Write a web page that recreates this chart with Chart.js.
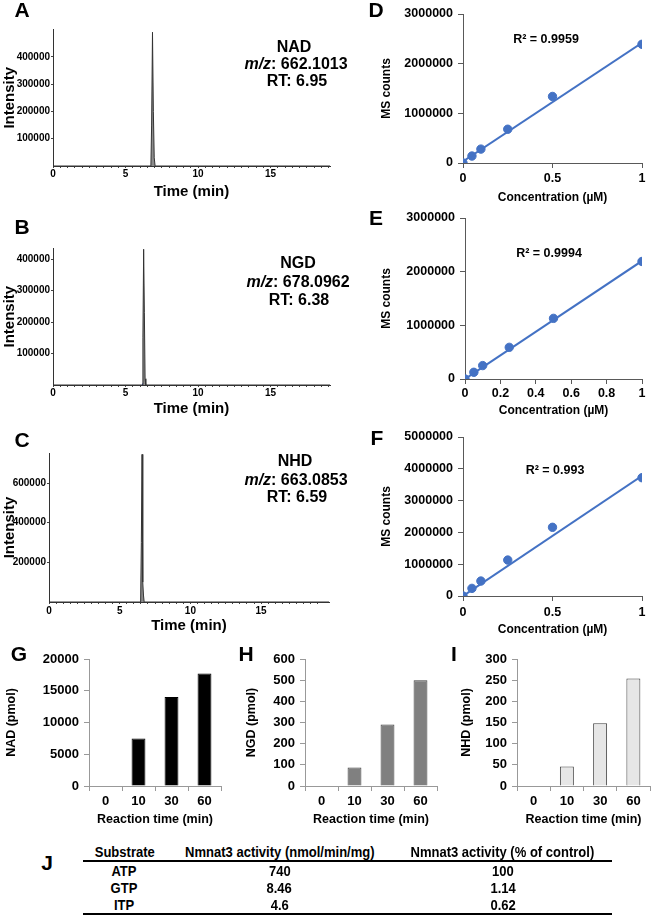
<!DOCTYPE html>
<html>
<head>
<meta charset="utf-8">
<script src="https://cdn.jsdelivr.net/npm/chart.js@4.4.0/dist/chart.umd.min.js"></script>
<style>
body { margin: 0; background: #fff; width: 654px; height: 917px; position: relative; overflow: hidden;
       font-family: "Liberation Sans", Arial, sans-serif; font-weight: bold; color: #000; }
canvas { position: absolute; }
.t { position: absolute; transform: translate(-50%, -50%); white-space: nowrap; }
.letter { font-size: 21px; }
.ann { font-size: 16px; text-align: center; }
.r2 { font-size: 12.5px; }
.nar { display: inline-block; transform: scaleX(0.84); transform-origin: center; white-space: nowrap; }
#tbl { position: absolute; left: 83px; top: 843px; width: 529px; border-collapse: collapse; font-size: 15.5px; }
#tbl th, #tbl td { padding: 0; height: 17px; line-height: 17px; text-align: center; font-weight: bold; white-space: nowrap; }
#tbl thead th { border-bottom: 2px solid #000; height: 17px; }
#tbl tbody tr:last-child td { border-bottom: 2px solid #000; }
</style>
</head>
<body>

<canvas id="cA" width="340" height="205" style="left:0px;top:0px"></canvas>
<canvas id="cB" width="340" height="222" style="left:0px;top:200px"></canvas>
<canvas id="cC" width="340" height="215" style="left:0px;top:420px"></canvas>
<canvas id="cD" width="276" height="210" style="left:378px;top:0px"></canvas>
<canvas id="cE" width="276" height="222" style="left:378px;top:200px"></canvas>
<canvas id="cF" width="276" height="222" style="left:378px;top:420px"></canvas>
<canvas id="cG" width="228" height="192" style="left:0px;top:640px"></canvas>
<canvas id="cH" width="212" height="192" style="left:232px;top:640px"></canvas>
<canvas id="cI" width="210" height="192" style="left:444px;top:640px"></canvas>

<div class="t letter" style="left:22px;top:10px">A</div>
<div class="t letter" style="left:22px;top:227px">B</div>
<div class="t letter" style="left:22px;top:440px">C</div>
<div class="t letter" style="left:376px;top:10px">D</div>
<div class="t letter" style="left:376px;top:218px">E</div>
<div class="t letter" style="left:377px;top:438px">F</div>
<div class="t letter" style="left:19px;top:654px">G</div>
<div class="t letter" style="left:246px;top:654px">H</div>
<div class="t letter" style="left:454px;top:654px">I</div>
<div class="t letter" style="left:47px;top:863px">J</div>

<div class="t ann" style="left:294px;top:47px">NAD</div>
<div class="t ann" style="left:296px;top:64px"><i>m/z</i>: 662.1013</div>
<div class="t ann" style="left:297px;top:81px">RT: 6.95</div>
<div class="t ann" style="left:298px;top:263px">NGD</div>
<div class="t ann" style="left:298px;top:282px"><i>m/z</i>: 678.0962</div>
<div class="t ann" style="left:299px;top:300px">RT: 6.38</div>
<div class="t ann" style="left:295px;top:461px">NHD</div>
<div class="t ann" style="left:296px;top:480px"><i>m/z</i>: 663.0853</div>
<div class="t ann" style="left:297px;top:497px">RT: 6.59</div>

<div class="t r2" style="left:546px;top:39px">R² = 0.9959</div>
<div class="t r2" style="left:549px;top:253px">R² = 0.9994</div>
<div class="t r2" style="left:555px;top:470px">R² = 0.993</div>

<table id="tbl">
  <thead><tr>
    <th style="width:98px"><span class="nar">Substrate</span></th>
    <th style="width:230px"><span class="nar">Nmnat3 activity (nmol/min/mg)</span></th>
    <th><span class="nar">Nmnat3 activity (% of control)</span></th>
  </tr></thead>
  <tbody id="tbody"></tbody>
</table>

<script>
// chromatograms (time in min, intensity)
const timeA = [0, 6.75, 6.8, 6.86, 6.92, 6.98, 7.04, 19.1];
const intA = [0, 0, 150000, 490000, 200000, 30000, 0, 0];
const timeB = [0, 6.15, 6.2, 6.25, 6.3, 6.35, 6.4, 19.1];
const intB = [0, 0, 150000, 432000, 230000, 20000, 0, 0];
const timeC = [0, 6.48, 6.53, 6.58, 6.63, 6.68, 6.73, 19.8];
const intC = [0, 0, 300000, 745000, 100000, 35000, 0, 0];
const ticksAB = [100000, 200000, 300000, 400000];
const ticksC = [200000, 400000, 600000];

// calibration curves
const conc = [0, 0.05, 0.1, 0.25, 0.5, 1];
const countsD = [0, 140000, 280000, 680000, 1340000, 2390000];
const countsE = [0, 125000, 250000, 590000, 1130000, 2190000];
const countsF = [0, 240000, 470000, 1130000, 2160000, 3720000];
const fitX = [0, 1];
const fitD = [30000, 2420000];
const fitE = [0, 2200000];
const fitF = [0, 3780000];

// reaction time course
const times = ['0', '10', '30', '60'];
const nad = [0, 7500, 14000, 17700];
const ngd = [0, 87, 290, 500];
const nhd = [0, 46, 148, 254];

// table J
const substrates = ['ATP', 'GTP', 'ITP'];
const activity = ['740', '8.46', '4.6'];
const percent = ['100', '1.14', '0.62'];

Chart.defaults.font.family = '"Liberation Sans", Arial, sans-serif';
Chart.defaults.font.weight = 'bold';
Chart.defaults.color = '#000';

const noPlug = { legend: { display: false }, tooltip: { enabled: false } };
const plain = v => String(v);

function chromo(id, t, v, yt, xMax, yMax, yW, xH, pad, xLabPad, xTitlePad) {
    const peak = t[v.indexOf(Math.max(...v))];
    new Chart(document.getElementById(id), {
        type: 'line',
        data: {
            datasets: [{
                data: t.map((x, i) => ({ x: x, y: v[i] })),
                borderColor: '#333', borderWidth: 1, backgroundColor: '#8c8c8c',
                fill: 'origin', pointRadius: 0, tension: 0
            }, {
                data: [{ x: peak, y: 0 }],
                showLine: false, pointStyle: 'triangle', pointRadius: 2.5,
                backgroundColor: '#2b3fd6', borderColor: '#2b3fd6'
            }]
        },
        options: {
            responsive: false, animation: false,
            layout: { padding: pad },
            plugins: noPlug,
            scales: {
                x: {
                    type: 'linear', min: 0, max: xMax,
                    afterBuildTicks: s => {
                        const a = [];
                        for (let k = 0; k <= Math.floor(xMax); k += 0.5) a.push({ value: k });
                        s.ticks = a;
                    },
                    afterFit: s => { s.height = xH; },
                    ticks: { autoSkip: false, maxRotation: 0, padding: xLabPad, font: { size: 10 },
                             callback: val => (val % 5 === 0 ? String(val) : '') },
                    grid: { drawOnChartArea: false, tickLength: 2, color: '#444' },
                    border: { color: '#333', dash: [2, 1] },
                    title: { display: true, text: 'Time (min)', font: { size: 15 }, padding: { top: 0, bottom: xTitlePad } }
                },
                y: {
                    min: 0, max: yMax,
                    afterBuildTicks: s => { s.ticks = yt.map(x => ({ value: x })); },
                    afterFit: s => { s.width = yW; },
                    ticks: { padding: 1, font: { size: 10 }, callback: plain },
                    grid: { drawOnChartArea: false, tickLength: 2, color: '#444' },
                    border: { color: '#333', dash: [1, 1] },
                    title: { display: true, text: 'Intensity', font: { size: 15 }, padding: { top: 1, bottom: 0 } }
                }
            }
        }
    });
}

chromo('cA', timeA, intA, ticksAB, 19.1, 500000, 53, 39, { top: 29.5, right: 10 }, 0, 4);
chromo('cB', timeB, intB, ticksAB, 19.1, 435000, 53, 37, { top: 48.3, right: 10 }, 0.5, 4);
chromo('cC', timeC, intC, ticksC, 19.8, 752000, 49, 33, { top: 33, right: 11 }, 1, 0);

function calib(id, counts, fit, yMax, xStep, yW, xH, top, xLabPad, xTitlePad) {
    new Chart(document.getElementById(id), {
        type: 'scatter',
        data: {
            datasets: [{
                data: fitX.map((x, i) => ({ x: x, y: fit[i] })),
                showLine: true, borderColor: '#4472c4', borderWidth: 2, pointRadius: 0
            }, {
                data: conc.map((x, i) => ({ x: x, y: counts[i] })),
                pointRadius: 4.2, backgroundColor: '#4472c4', borderColor: '#4472c4'
            }]
        },
        options: {
            responsive: false, animation: false,
            layout: { padding: { top: top, right: 12 } },
            plugins: noPlug,
            scales: {
                x: {
                    type: 'linear', min: 0, max: 1,
                    afterFit: s => { s.height = xH; },
                    ticks: { stepSize: xStep, padding: xLabPad, maxRotation: 0, font: { size: 12.5 },
                             callback: v => String(+v.toFixed(1)) },
                    grid: { drawOnChartArea: false, tickLength: 5, color: '#595959' },
                    border: { color: '#595959', width: 1 },
                    title: { display: true, text: 'Concentration (µM)', font: { size: 12 }, padding: { top: 0, bottom: xTitlePad } }
                },
                y: {
                    min: 0, max: yMax,
                    afterFit: s => { s.width = yW; },
                    ticks: { stepSize: 1000000, padding: 5, font: { size: 12.5 }, callback: plain },
                    grid: { drawOnChartArea: false, tickLength: 5, color: '#595959' },
                    border: { color: '#595959', width: 1 },
                    title: { display: true, text: 'MS counts', font: { size: 12 }, padding: { top: 1.8, bottom: 0 } }
                }
            }
        }
    });
}

calib('cD', countsD, fitD, 3000000, 0.5, 85, 47, 14, 2.8, 4.8);
calib('cE', countsE, fitE, 3000000, 0.2, 87, 43, 18, 1.8, 3.8);
calib('cF', countsF, fitF, 5000000, 0.5, 85, 46, 17, 3.8, 4.8);

function bars(id, vals, label, yMax, step, fill, edge, yW, rightPad, yTitlePad) {
    new Chart(document.getElementById(id), {
        type: 'bar',
        data: {
            labels: times,
            datasets: [{
                data: vals, backgroundColor: fill, borderColor: edge, borderWidth: 1,
                categoryPercentage: 1, barPercentage: 0.42
            }]
        },
        options: {
            responsive: false, animation: false,
            layout: { padding: { top: 19, right: rightPad } },
            plugins: noPlug,
            scales: {
                x: {
                    afterFit: s => { s.height = 46; },
                    ticks: { padding: 3, font: { size: 13 } },
                    grid: { drawOnChartArea: false, tickLength: 5, color: '#999' },
                    border: { color: '#999' },
                    title: { display: true, text: 'Reaction time (min)', font: { size: 12.5 }, padding: { top: 0, bottom: 5 } }
                },
                y: {
                    min: 0, max: yMax,
                    afterFit: s => { s.width = yW; },
                    ticks: { stepSize: step, padding: 5, font: { size: 13 }, callback: plain },
                    grid: { drawOnChartArea: false, tickLength: 5, color: '#999' },
                    border: { color: '#999' },
                    title: { display: true, text: label, font: { size: 12.5 }, padding: { top: yTitlePad, bottom: 0 } }
                }
            }
        }
    });
}

bars('cG', nad, 'NAD (pmol)', 20000, 5000, '#000', '#000', 89, 7, 4);
bars('cH', ngd, 'NGD (pmol)', 600, 100, '#808080', '#404040', 73, 7, 12);
bars('cI', nhd, 'NHD (pmol)', 300, 50, '#e6e6e6', '#404040', 73, 4, 15);

const tb = document.getElementById('tbody');
substrates.forEach((s, i) => {
    const tr = document.createElement('tr');
    [s, activity[i], percent[i]].forEach(v => {
        const td = document.createElement('td');
        td.innerHTML = '<span class="nar">' + v + '</span>';
        tr.appendChild(td);
    });
    tb.appendChild(tr);
});
</script>
</body>
</html>
